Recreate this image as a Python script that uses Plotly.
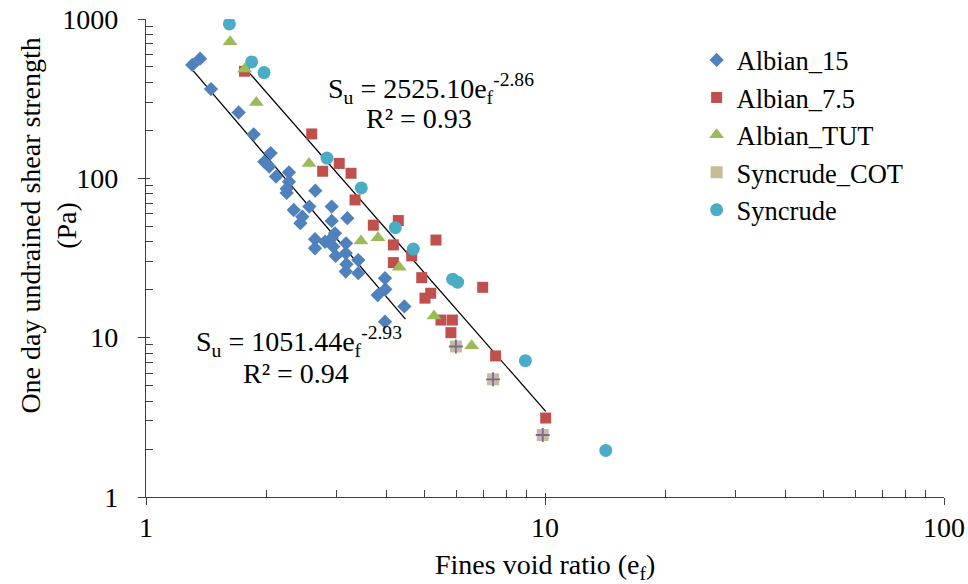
import plotly.graph_objects as go

# Fines void ratio (x) and one-day undrained shear strength in Pa (y) per material
albian15_ef = [1.306, 1.366, 1.455, 1.707, 1.862, 2.053, 1.979, 2.037, 2.282, 2.118,
               2.282, 2.657, 2.252, 2.252, 2.346, 2.92, 2.567, 2.465, 3.196, 2.92,
               2.437, 2.976, 2.652, 2.81, 2.92, 2.652, 2.947, 3.172, 2.988, 3.167,
               3.18, 3.405, 3.167, 3.405, 3.972, 3.98, 3.808, 4.441, 3.972]
albian15_su = [515, 564, 363, 259, 189, 144, 127, 118.5, 109, 102.5,
               95.3, 83.7, 86, 81, 63.3, 66.5, 66.5, 57.5, 56.2, 54,
               52.3, 45.2, 41.5, 40, 42.1, 36.4, 37.3, 39.1, 32.6, 33.9,
               28.9, 30.7, 26, 25.4, 23.6, 20.1, 18.5, 15.7, 12.6]

albian75_ef = [1.765, 2.602, 3.05, 2.772, 3.265, 3.341, 3.713, 4.289, 4.168, 4.634,
               5.33, 4.168, 4.91, 5.003, 5.17, 6.98, 5.486, 5.86, 5.81, 7.52, 10.04]
albian75_su = [470, 190, 124, 110.8, 107.6, 73.2, 50.8, 54.3, 38.2, 32.6,
               41, 29.6, 23.8, 17.7, 19, 20.7, 12.9, 12.9, 10.75, 7.68, 3.13]

albianTUT_ef = [1.625, 1.767, 1.89, 2.562, 3.458, 3.815, 4.314, 5.27, 6.55]
albianTUT_su = [721, 486, 299, 124, 40.5, 42.4, 27.7, 13.7, 8.9]

syncrudeCOT_ef = [5.98, 7.41, 9.87]
syncrudeCOT_su = [8.8, 5.48, 2.45]

syncrude_ef = [1.618, 1.84, 1.976, 2.842, 3.464, 4.215, 4.677, 5.87, 6.04, 8.93, 14.2]
syncrude_su = [931, 538, 461, 134, 87, 49, 36, 23.3, 22.3, 7.17, 1.96]

# Power-law trendlines  Su = a * ef^b  and the ef span each one covers
fit_low = dict(a=1051.44, b=-2.93, r2=0.94, ef=[1.314, 4.47])
fit_high = dict(a=2525.10, b=-2.86, r2=0.93, ef=[1.781, 10.04])

x_ticks = [1, 10, 100]
y_ticks = [1, 10, 100, 1000]
x_minor = [m * d for d in (1, 10) for m in range(2, 10)]
y_minor = [m * d for d in (1, 10, 100) for m in range(2, 10)]

FONT = "Liberation Serif, Times New Roman, serif"
AXIS = "#404040"

fig = go.Figure()

for fit in (fit_low, fit_high):
    xs = fit["ef"]
    ys = [fit["a"] * v ** fit["b"] for v in xs]
    fig.add_trace(go.Scatter(x=xs, y=ys, mode="lines", showlegend=False,
                             line=dict(color="black", width=1.3), hoverinfo="skip"))

fig.add_trace(go.Scatter(x=albian15_ef, y=albian15_su, mode="markers", name="Albian_15",
                         marker=dict(symbol="diamond", size=11, color="#4F81BD")))
fig.add_trace(go.Scatter(x=albian75_ef, y=albian75_su, mode="markers", name="Albian_7.5",
                         marker=dict(symbol="square", size=11, color="#C0504D")))
fig.add_trace(go.Scatter(x=albianTUT_ef, y=albianTUT_su, mode="markers", name="Albian_TUT",
                         marker=dict(symbol="triangle-up", size=13, color="#9BBB59")))
fig.add_trace(go.Scatter(x=syncrudeCOT_ef, y=syncrudeCOT_su, mode="markers", name="Syncrude_COT",
                         legendgroup="cot",
                         marker=dict(symbol="square", size=12, color="#C4BD97")))
fig.add_trace(go.Scatter(x=syncrudeCOT_ef, y=syncrudeCOT_su, mode="markers", showlegend=False,
                         legendgroup="cot",
                         marker=dict(symbol="cross-thin", size=10,
                                     line=dict(color="#8064A2", width=1.8))))
fig.add_trace(go.Scatter(x=syncrude_ef, y=syncrude_su, mode="markers", name="Syncrude",
                         marker=dict(symbol="circle", size=13, color="#4BACC6")))


def eq_text(fit):
    return "S<sub>u</sub> = %.2fe<sub>f</sub><sup>%.2f</sup>" % (fit["a"], fit["b"])


def r2_text(fit):
    return "R² = %.2f" % fit["r2"]


ann_font = dict(family=FONT, size=28, color="black")
for x, y, txt in [(0.357, 0.854, eq_text(fit_high)), (0.342, 0.791, r2_text(fit_high)),
                  (0.192, 0.326, eq_text(fit_low)), (0.188, 0.258, r2_text(fit_low))]:
    fig.add_annotation(x=x, y=y, xref="paper", yref="paper", text=txt, showarrow=False,
                       font=ann_font, xanchor="center", yanchor="middle")

# axis titles
fig.add_annotation(x=0.5, y=-0.146, xref="paper", yref="paper", showarrow=False,
                   text="Fines void ratio (e<sub>f</sub>)", font=ann_font,
                   xanchor="center", yanchor="middle")
fig.add_annotation(x=-0.122, y=0.567, xref="paper", yref="paper", showarrow=False,
                   text="One day undrained shear strength<br>(Pa)", font=ann_font,
                   textangle=-90, xanchor="center", yanchor="middle")

tick_font = dict(family=FONT, size=28, color="black")
fig.update_layout(
    width=968, height=584,
    margin=dict(l=146, r=24, t=19, b=87, autoexpand=False),
    paper_bgcolor="white", plot_bgcolor="white",
    font=dict(family=FONT, size=28, color="black"),
    xaxis=dict(type="log", range=[0, 2], showgrid=False, zeroline=False, automargin=False,
               showline=True, linecolor=AXIS, linewidth=1.3,
               ticks="outside", ticklen=7, tickwidth=1.3, tickcolor=AXIS,
               tickvals=x_ticks, ticktext=[str(v) for v in x_ticks], tickfont=tick_font,
               ticklabelstandoff=-2,
               minor=dict(ticks="inside", ticklen=7, tickwidth=1, tickcolor=AXIS,
                          tickvals=x_minor, showgrid=False)),
    yaxis=dict(type="log", range=[0, 3], showgrid=False, zeroline=False, automargin=False,
               showline=True, linecolor=AXIS, linewidth=1.3,
               ticks="outside", ticklen=7, tickwidth=1.3, tickcolor=AXIS,
               tickvals=y_ticks, ticktext=[str(v) for v in y_ticks], tickfont=tick_font,
               ticklabelstandoff=14,
               minor=dict(ticks="inside", ticklen=7, tickwidth=1, tickcolor=AXIS,
                          tickvals=y_minor, showgrid=False)),
    xaxis2=dict(type="log", range=[0, 2], overlaying="x", anchor="y", side="bottom",
                automargin=False,
                showgrid=False, zeroline=False, showline=False, ticks="inside", ticklen=4,
                tickwidth=1.3, tickcolor=AXIS, tickvals=x_ticks, showticklabels=False),
    yaxis2=dict(type="log", range=[0, 3], overlaying="y", anchor="x", side="left",
                automargin=False,
                showgrid=False, zeroline=False, showline=False, ticks="inside", ticklen=4,
                tickwidth=1.3, tickcolor=AXIS, tickvals=y_ticks, showticklabels=False),
    legend=dict(x=0.69, y=0.964, xanchor="left", yanchor="top",
                bgcolor="rgba(0,0,0,0)", font=dict(family=FONT, size=26.5, color="black"),
                itemwidth=30, tracegroupgap=0),
    showlegend=True,
)

# anchor an invisible trace to the secondary axes so their crossing ticks are drawn
fig.add_trace(go.Scatter(x=[1], y=[1], xaxis="x2", yaxis="y2", mode="markers",
                         marker=dict(opacity=0), showlegend=False, hoverinfo="skip"))

fig.write_html("out.html")
